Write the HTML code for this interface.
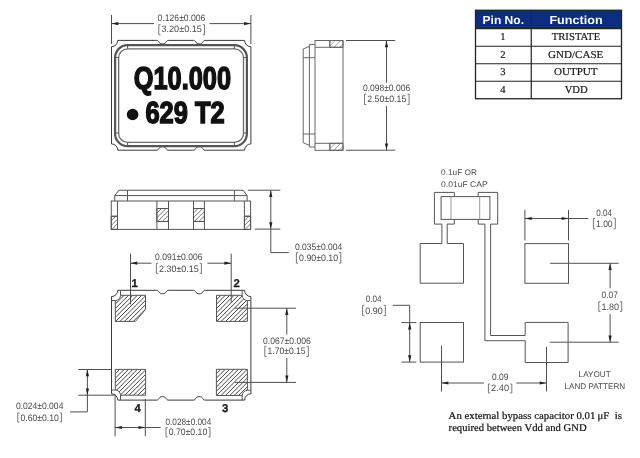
<!DOCTYPE html>
<html><head><meta charset="utf-8"><style>
html,body{margin:0;padding:0;background:#fff;}
svg{display:block;will-change:transform;filter:blur(0.3px);} text{text-rendering:geometricPrecision;}
</style></head><body>
<svg width="640" height="458" viewBox="0 0 640 458">

<rect width="640" height="458" fill="#fff"/>
<path d="M117.8,40.4 L156.8,40.4 C159.20000000000002,40.4 158.3,43.9 162.5,43.9 C166.7,43.9 165.79999999999998,40.4 168.2,40.4 L193.6,40.4 C196.0,40.4 195.05,43.9 199.25,43.9 C203.45,43.9 202.5,40.4 204.9,40.4 L244.6,40.4 A6.3,6.3 0 0 0 250.9,46.699999999999996 L250.9,143.89999999999998 A6.3,6.3 0 0 0 244.6,150.2 L204.9,150.2 C202.5,150.2 203.45,146.7 199.25,146.7 C195.05,146.7 196.0,150.2 193.6,150.2 L168.2,150.2 C165.79999999999998,150.2 166.7,146.7 162.5,146.7 C158.3,146.7 159.20000000000002,150.2 156.8,150.2 L117.8,150.2 A6.3,6.3 0 0 0 111.5,143.89999999999998 L111.5,46.699999999999996 A6.3,6.3 0 0 0 117.8,40.4 Z" stroke="#3a3a3a" stroke-width="1.0" fill="none"/>
<rect x="115.1" y="45.2" width="131.8" height="101" rx="12.5" ry="12.5" fill="none" stroke="#555" stroke-width="2.2"/>
<rect x="118.65" y="48.85" width="124.85" height="93.55" rx="9" ry="9" fill="none" stroke="#6a6a6a" stroke-width="1.3"/>
<line x1="127.6" y1="45.2" x2="127.6" y2="48.85" stroke="#555" stroke-width="1"/>
<line x1="127.6" y1="142.4" x2="127.6" y2="146.2" stroke="#555" stroke-width="1"/>
<line x1="234.3" y1="45.2" x2="234.3" y2="48.85" stroke="#555" stroke-width="1"/>
<line x1="234.3" y1="142.4" x2="234.3" y2="146.2" stroke="#555" stroke-width="1"/>
<line x1="115.1" y1="57.6" x2="118.65" y2="57.6" stroke="#555" stroke-width="1"/>
<line x1="243.5" y1="57.6" x2="246.9" y2="57.6" stroke="#555" stroke-width="1"/>
<line x1="115.1" y1="133.0" x2="118.65" y2="133.0" stroke="#555" stroke-width="1"/>
<line x1="243.5" y1="133.0" x2="246.9" y2="133.0" stroke="#555" stroke-width="1"/>
<text x="133.8" y="88.8" font-family="Liberation Sans" font-weight="bold" font-size="31.5" fill="#111" stroke="#111" stroke-width="1.5" textLength="97.2" lengthAdjust="spacingAndGlyphs">Q10.000</text>
<circle cx="132.6" cy="114.5" r="5.8" fill="#111"/>
<text x="145.4" y="122.8" font-family="Liberation Sans" font-weight="bold" font-size="30.5" fill="#111" stroke="#111" stroke-width="1.5" textLength="79.2" lengthAdjust="spacingAndGlyphs">629 T2</text>
<line x1="111.5" y1="15" x2="111.5" y2="44" stroke="#505050" stroke-width="1.0"/>
<line x1="250.9" y1="15" x2="250.9" y2="44" stroke="#505050" stroke-width="1.0"/>
<line x1="111.5" y1="23.6" x2="154" y2="23.6" stroke="#505050" stroke-width="1.0"/>
<line x1="209.6" y1="23.6" x2="250.9" y2="23.6" stroke="#505050" stroke-width="1.0"/>
<polygon points="111.5,23.6 118.3,22.0 118.3,25.200000000000003" fill="#222"/>
<polygon points="250.9,23.6 244.1,22.0 244.1,25.200000000000003" fill="#222"/>
<text x="157.6" y="20.5" font-family="Liberation Sans" font-size="9.3" font-weight="normal" fill="#4a4a4a" text-anchor="start" textLength="47.8" lengthAdjust="spacingAndGlyphs">0.126±0.006</text>
<path d="M160.5,24.7 H158.8 V34.8 H160.5" stroke="#6a6a6a" stroke-width="0.9" fill="none"/>
<path d="M202.8,24.7 H204.5 V34.8 H202.8" stroke="#6a6a6a" stroke-width="0.9" fill="none"/>
<text x="161.5" y="32.4" font-family="Liberation Sans" font-size="9.3" font-weight="normal" fill="#4a4a4a" text-anchor="start" textLength="40.3" lengthAdjust="spacingAndGlyphs">3.20±0.15</text>
<rect x="315" y="40.5" width="28" height="109.8" stroke="#666" stroke-width="1.0" fill="none"/>
<line x1="315" y1="47.3" x2="343" y2="47.3" stroke="#666" stroke-width="1.0"/>
<line x1="315" y1="143.3" x2="343" y2="143.3" stroke="#666" stroke-width="1.0"/>
<line x1="329.8" y1="40.5" x2="329.8" y2="47.3" stroke="#666" stroke-width="1.0"/>
<line x1="329.8" y1="143.3" x2="329.8" y2="150.3" stroke="#666" stroke-width="1.0"/>
<path d="M315,44.4 H309.4 V147 H315" stroke="#666" stroke-width="1.0" fill="none"/>
<path d="M309.4,46.3 L303.2,49 V142.7 L309.4,145.4" stroke="#666" stroke-width="1.0" fill="none"/>
<line x1="303.2" y1="57.7" x2="315" y2="57.7" stroke="#666" stroke-width="1.0"/>
<line x1="303.2" y1="134" x2="315" y2="134" stroke="#666" stroke-width="1.0"/>
<line x1="346" y1="40.5" x2="395.3" y2="40.5" stroke="#505050" stroke-width="1.0"/>
<line x1="346" y1="150.2" x2="395.3" y2="150.2" stroke="#505050" stroke-width="1.0"/>
<line x1="386.5" y1="40.5" x2="386.5" y2="82.7" stroke="#505050" stroke-width="1.0"/>
<line x1="386.5" y1="106.2" x2="386.5" y2="150.2" stroke="#505050" stroke-width="1.0"/>
<polygon points="386.5,40.5 384.9,47.3 388.1,47.3" fill="#222"/>
<polygon points="386.5,150.2 384.9,143.39999999999998 388.1,143.39999999999998" fill="#222"/>
<text x="362.9" y="91.2" font-family="Liberation Sans" font-size="9.3" font-weight="normal" fill="#4a4a4a" text-anchor="start" textLength="47.3" lengthAdjust="spacingAndGlyphs">0.098±0.006</text>
<path d="M366.2,94.1 H364.5 V104.5 H366.2" stroke="#6a6a6a" stroke-width="0.9" fill="none"/>
<path d="M407.40000000000003,94.1 H409.1 V104.5 H407.40000000000003" stroke="#6a6a6a" stroke-width="0.9" fill="none"/>
<text x="367.2" y="102.4" font-family="Liberation Sans" font-size="9.3" font-weight="normal" fill="#4a4a4a" text-anchor="start" textLength="39.2" lengthAdjust="spacingAndGlyphs">2.50±0.15</text>
<path d="M114.75,201 V195.6 L118.75,190.25 H243.1 L247.1,195.6 V201" stroke="#555555" stroke-width="1.0" fill="none"/>
<line x1="114.75" y1="195.6" x2="247.1" y2="195.6" stroke="#555555" stroke-width="1.0"/>
<line x1="127.5" y1="190.25" x2="127.5" y2="201" stroke="#555555" stroke-width="1.0"/>
<line x1="234.4" y1="190.25" x2="234.4" y2="201" stroke="#555555" stroke-width="1.0"/>
<rect x="111.25" y="201" width="139.35" height="28.4" stroke="#555555" stroke-width="1.0" fill="none"/>
<line x1="117.5" y1="201" x2="117.5" y2="229.4" stroke="#555555" stroke-width="1.0"/>
<line x1="156.9" y1="201" x2="156.9" y2="229.4" stroke="#555555" stroke-width="1.0"/>
<line x1="168.5" y1="201" x2="168.5" y2="229.4" stroke="#555555" stroke-width="1.0"/>
<line x1="193.5" y1="201" x2="193.5" y2="229.4" stroke="#555555" stroke-width="1.0"/>
<line x1="204.4" y1="201" x2="204.4" y2="229.4" stroke="#555555" stroke-width="1.0"/>
<line x1="244.4" y1="201" x2="244.4" y2="229.4" stroke="#555555" stroke-width="1.0"/>
<line x1="111.25" y1="216.25" x2="117.5" y2="216.25" stroke="#555555" stroke-width="1.0"/>
<line x1="244.4" y1="216.25" x2="250.6" y2="216.25" stroke="#555555" stroke-width="1.0"/>
<line x1="156.9" y1="208.5" x2="168.5" y2="208.5" stroke="#555555" stroke-width="1.0"/>
<line x1="156.9" y1="221.5" x2="168.5" y2="221.5" stroke="#555555" stroke-width="1.0"/>
<line x1="193.5" y1="208.5" x2="204.4" y2="208.5" stroke="#555555" stroke-width="1.0"/>
<line x1="193.5" y1="221.5" x2="204.4" y2="221.5" stroke="#555555" stroke-width="1.0"/>
<line x1="247.9" y1="190.2" x2="280.3" y2="190.2" stroke="#505050" stroke-width="1.0"/>
<line x1="254.7" y1="229.1" x2="280.3" y2="229.1" stroke="#505050" stroke-width="1.0"/>
<path d="M270.8,190.2 V252.6 H288.8" stroke="#505050" stroke-width="1.0" fill="none"/>
<polygon points="270.8,190.2 269.2,197.0 272.40000000000003,197.0" fill="#222"/>
<polygon points="270.8,229.1 269.2,222.29999999999998 272.40000000000003,222.29999999999998" fill="#222"/>
<text x="294.9" y="249.8" font-family="Liberation Sans" font-size="9.3" font-weight="normal" fill="#4a4a4a" text-anchor="start" textLength="47.4" lengthAdjust="spacingAndGlyphs">0.035±0.004</text>
<path d="M298.09999999999997,252.6 H296.4 V263.1 H298.09999999999997" stroke="#6a6a6a" stroke-width="0.9" fill="none"/>
<path d="M339.1,252.6 H340.8 V263.1 H339.1" stroke="#6a6a6a" stroke-width="0.9" fill="none"/>
<text x="299.09999999999997" y="261.4" font-family="Liberation Sans" font-size="9.3" font-weight="normal" fill="#4a4a4a" text-anchor="start" textLength="39.0" lengthAdjust="spacingAndGlyphs">0.90±0.10</text>
<path d="M117.8,290.3 L156.8,290.3 C159.20000000000002,290.3 158.3,293.8 162.5,293.8 C166.7,293.8 165.79999999999998,290.3 168.2,290.3 L193.6,290.3 C196.0,290.3 195.05,293.8 199.25,293.8 C203.45,293.8 202.5,290.3 204.9,290.3 L244.6,290.3 A6.3,6.3 0 0 0 250.9,296.6 L250.9,393.8 A6.3,6.3 0 0 0 244.6,400.1 L204.9,400.1 C202.5,400.1 203.45,396.6 199.25,396.6 C195.05,396.6 196.0,400.1 193.6,400.1 L168.2,400.1 C165.79999999999998,400.1 166.7,396.6 162.5,396.6 C158.3,396.6 159.20000000000002,400.1 156.8,400.1 L117.8,400.1 A6.3,6.3 0 0 0 111.5,393.8 L111.5,296.6 A6.3,6.3 0 0 0 117.8,290.3 Z" stroke="#3a3a3a" stroke-width="1.0" fill="none"/>
<line x1="111.5" y1="300.5" x2="115.3" y2="300.5" stroke="#555555" stroke-width="1.0"/>
<line x1="120.5" y1="290.4" x2="120.5" y2="295.3" stroke="#555555" stroke-width="1.0"/>
<line x1="247.4" y1="300.5" x2="250.5" y2="300.5" stroke="#555555" stroke-width="1.0"/>
<line x1="242.2" y1="290.4" x2="242.2" y2="295.3" stroke="#555555" stroke-width="1.0"/>
<line x1="111.5" y1="390" x2="115.3" y2="390" stroke="#555555" stroke-width="1.0"/>
<line x1="120.5" y1="395.2" x2="120.5" y2="400" stroke="#555555" stroke-width="1.0"/>
<line x1="247.4" y1="390.3" x2="250.5" y2="390.3" stroke="#555555" stroke-width="1.0"/>
<line x1="242.2" y1="395.5" x2="242.2" y2="400" stroke="#555555" stroke-width="1.0"/>
<clipPath id="c1"><path d="M115.3,300.5 A5.2,5.2 0 0 0 120.5,295.3 H145.5 V309.4 L135.4,321.4 H115.3 Z"/></clipPath>
<path d="M88.20,322.40 L116.30,294.30 M92.60,322.40 L120.70,294.30 M97.00,322.40 L125.10,294.30 M101.40,322.40 L129.50,294.30 M105.80,322.40 L133.90,294.30 M110.20,322.40 L138.30,294.30 M114.60,322.40 L142.70,294.30 M119.00,322.40 L147.10,294.30 M123.40,322.40 L151.50,294.30 M127.80,322.40 L155.90,294.30 M132.20,322.40 L160.30,294.30 M136.60,322.40 L164.70,294.30 M141.00,322.40 L169.10,294.30" stroke="#303030" stroke-width="0.9" clip-path="url(#c1)" fill="none"/>
<path d="M115.3,300.5 A5.2,5.2 0 0 0 120.5,295.3 H145.5 V309.4 L135.4,321.4 H115.3 Z" fill="none" stroke="#555555" stroke-width="1"/>
<clipPath id="c2"><path d="M216.5,295.3 H242.2 A5.2,5.2 0 0 0 247.4,300.5 V321.4 H216.5 Z"/></clipPath>
<path d="M189.40,322.40 L217.50,294.30 M193.80,322.40 L221.90,294.30 M198.20,322.40 L226.30,294.30 M202.60,322.40 L230.70,294.30 M207.00,322.40 L235.10,294.30 M211.40,322.40 L239.50,294.30 M215.80,322.40 L243.90,294.30 M220.20,322.40 L248.30,294.30 M224.60,322.40 L252.70,294.30 M229.00,322.40 L257.10,294.30 M233.40,322.40 L261.50,294.30 M237.80,322.40 L265.90,294.30 M242.20,322.40 L270.30,294.30" stroke="#303030" stroke-width="0.9" clip-path="url(#c2)" fill="none"/>
<path d="M216.5,295.3 H242.2 A5.2,5.2 0 0 0 247.4,300.5 V321.4 H216.5 Z" fill="none" stroke="#555555" stroke-width="1"/>
<clipPath id="c3"><path d="M216.4,369.3 H247.4 V390.3 A5.2,5.2 0 0 0 242.2,395.5 H216.4 Z"/></clipPath>
<path d="M189.20,396.50 L217.40,368.30 M193.60,396.50 L221.80,368.30 M198.00,396.50 L226.20,368.30 M202.40,396.50 L230.60,368.30 M206.80,396.50 L235.00,368.30 M211.20,396.50 L239.40,368.30 M215.60,396.50 L243.80,368.30 M220.00,396.50 L248.20,368.30 M224.40,396.50 L252.60,368.30 M228.80,396.50 L257.00,368.30 M233.20,396.50 L261.40,368.30 M237.60,396.50 L265.80,368.30 M242.00,396.50 L270.20,368.30 M246.40,396.50 L274.60,368.30" stroke="#303030" stroke-width="0.9" clip-path="url(#c3)" fill="none"/>
<path d="M216.4,369.3 H247.4 V390.3 A5.2,5.2 0 0 0 242.2,395.5 H216.4 Z" fill="none" stroke="#555555" stroke-width="1"/>
<clipPath id="c4"><path d="M115.3,369.4 H145.6 V395.2 H120.5 A5.2,5.2 0 0 0 115.3,390 Z"/></clipPath>
<path d="M88.50,396.20 L116.30,368.40 M92.90,396.20 L120.70,368.40 M97.30,396.20 L125.10,368.40 M101.70,396.20 L129.50,368.40 M106.10,396.20 L133.90,368.40 M110.50,396.20 L138.30,368.40 M114.90,396.20 L142.70,368.40 M119.30,396.20 L147.10,368.40 M123.70,396.20 L151.50,368.40 M128.10,396.20 L155.90,368.40 M132.50,396.20 L160.30,368.40 M136.90,396.20 L164.70,368.40 M141.30,396.20 L169.10,368.40" stroke="#303030" stroke-width="0.9" clip-path="url(#c4)" fill="none"/>
<path d="M115.3,369.4 H145.6 V395.2 H120.5 A5.2,5.2 0 0 0 115.3,390 Z" fill="none" stroke="#555555" stroke-width="1"/>
<clipPath id="c5"><path d="M111.25,216.25 H117.5 V229.4 H111.25 Z"/></clipPath>
<path d="M97.10,230.40 L112.25,215.25 M101.70,230.40 L116.85,215.25 M106.30,230.40 L121.45,215.25 M110.90,230.40 L126.05,215.25 M115.50,230.40 L130.65,215.25" stroke="#555" stroke-width="0.8" clip-path="url(#c5)" fill="none"/>
<path d="M111.25,216.25 H117.5 V229.4 H111.25 Z" fill="none" stroke="#555555" stroke-width="1"/>
<clipPath id="c6"><path d="M244.4,216.25 H250.6 V229.4 H244.4 Z"/></clipPath>
<path d="M230.25,230.40 L245.40,215.25 M234.85,230.40 L250.00,215.25 M239.45,230.40 L254.60,215.25 M244.05,230.40 L259.20,215.25 M248.65,230.40 L263.80,215.25" stroke="#555" stroke-width="0.8" clip-path="url(#c6)" fill="none"/>
<path d="M244.4,216.25 H250.6 V229.4 H244.4 Z" fill="none" stroke="#555555" stroke-width="1"/>
<clipPath id="c7"><path d="M156.9,208.5 H168.5 V221.5 H156.9 Z"/></clipPath>
<path d="M142.90,222.50 L157.90,207.50 M147.50,222.50 L162.50,207.50 M152.10,222.50 L167.10,207.50 M156.70,222.50 L171.70,207.50 M161.30,222.50 L176.30,207.50 M165.90,222.50 L180.90,207.50" stroke="#555" stroke-width="0.8" clip-path="url(#c7)" fill="none"/>
<path d="M156.9,208.5 H168.5 V221.5 H156.9 Z" fill="none" stroke="#555555" stroke-width="1"/>
<clipPath id="c8"><path d="M193.5,208.5 H204.4 V221.5 H193.5 Z"/></clipPath>
<path d="M179.50,222.50 L194.50,207.50 M184.10,222.50 L199.10,207.50 M188.70,222.50 L203.70,207.50 M193.30,222.50 L208.30,207.50 M197.90,222.50 L212.90,207.50 M202.50,222.50 L217.50,207.50" stroke="#555" stroke-width="0.8" clip-path="url(#c8)" fill="none"/>
<path d="M193.5,208.5 H204.4 V221.5 H193.5 Z" fill="none" stroke="#555555" stroke-width="1"/>
<clipPath id="c9"><path d="M329.8,40.5 H343 V47.3 H329.8 Z"/></clipPath>
<path d="M322.00,48.30 L330.80,39.50 M327.50,48.30 L336.30,39.50 M333.00,48.30 L341.80,39.50 M338.50,48.30 L347.30,39.50" stroke="#888" stroke-width="0.8" clip-path="url(#c9)" fill="none"/>
<path d="M329.8,40.5 H343 V47.3 H329.8 Z" fill="none" stroke="#666" stroke-width="1"/>
<clipPath id="c10"><path d="M329.8,143.3 H343 V150.3 H329.8 Z"/></clipPath>
<path d="M321.80,151.30 L330.80,142.30 M327.30,151.30 L336.30,142.30 M332.80,151.30 L341.80,142.30 M338.30,151.30 L347.30,142.30" stroke="#888" stroke-width="0.8" clip-path="url(#c10)" fill="none"/>
<path d="M329.8,143.3 H343 V150.3 H329.8 Z" fill="none" stroke="#666" stroke-width="1"/>
<text x="131.6" y="287.0" font-family="Liberation Sans" font-size="11.3" font-weight="bold" fill="#1a1a1a" text-anchor="start" stroke="#1a1a1a" stroke-width="0.3">1</text>
<text x="233.6" y="287.0" font-family="Liberation Sans" font-size="11.3" font-weight="bold" fill="#1a1a1a" text-anchor="start" stroke="#1a1a1a" stroke-width="0.3">2</text>
<text x="134.4" y="411.7" font-family="Liberation Sans" font-size="11.3" font-weight="bold" fill="#1a1a1a" text-anchor="start" stroke="#1a1a1a" stroke-width="0.3">4</text>
<text x="221.9" y="411.6" font-family="Liberation Sans" font-size="11.3" font-weight="bold" fill="#1a1a1a" text-anchor="start" stroke="#1a1a1a" stroke-width="0.3">3</text>
<line x1="130.5" y1="253.7" x2="130.5" y2="304.5" stroke="#505050" stroke-width="1.0"/>
<line x1="231.2" y1="253.7" x2="231.2" y2="302.4" stroke="#505050" stroke-width="1.0"/>
<line x1="130.5" y1="263.2" x2="151.6" y2="263.2" stroke="#505050" stroke-width="1.0"/>
<line x1="207.4" y1="263.2" x2="231.2" y2="263.2" stroke="#505050" stroke-width="1.0"/>
<polygon points="130.5,263.2 137.3,261.59999999999997 137.3,264.8" fill="#222"/>
<polygon points="231.2,263.2 224.39999999999998,261.59999999999997 224.39999999999998,264.8" fill="#222"/>
<text x="155.1" y="259.5" font-family="Liberation Sans" font-size="9.3" font-weight="normal" fill="#4a4a4a" text-anchor="start" textLength="47.3" lengthAdjust="spacingAndGlyphs">0.091±0.006</text>
<path d="M158.1,263.3 H156.4 V273.4 H158.1" stroke="#6a6a6a" stroke-width="0.9" fill="none"/>
<path d="M199.70000000000002,263.3 H201.4 V273.4 H199.70000000000002" stroke="#6a6a6a" stroke-width="0.9" fill="none"/>
<text x="159.1" y="271.5" font-family="Liberation Sans" font-size="9.3" font-weight="normal" fill="#4a4a4a" text-anchor="start" textLength="39.6" lengthAdjust="spacingAndGlyphs">2.30±0.15</text>
<line x1="234.9" y1="308.2" x2="296" y2="308.2" stroke="#505050" stroke-width="1.0"/>
<line x1="234.9" y1="382.4" x2="296" y2="382.4" stroke="#505050" stroke-width="1.0"/>
<line x1="286.8" y1="308.2" x2="286.8" y2="334.6" stroke="#505050" stroke-width="1.0"/>
<line x1="286.8" y1="358" x2="286.8" y2="382.4" stroke="#505050" stroke-width="1.0"/>
<polygon points="286.8,308.2 285.2,315.0 288.40000000000003,315.0" fill="#222"/>
<polygon points="286.8,382.4 285.2,375.59999999999997 288.40000000000003,375.59999999999997" fill="#222"/>
<text x="263.1" y="343.6" font-family="Liberation Sans" font-size="9.3" font-weight="normal" fill="#4a4a4a" text-anchor="start" textLength="47.7" lengthAdjust="spacingAndGlyphs">0.067±0.006</text>
<path d="M266.5,346.3 H264.8 V356.5 H266.5" stroke="#6a6a6a" stroke-width="0.9" fill="none"/>
<path d="M306.6,346.3 H308.3 V356.5 H306.6" stroke="#6a6a6a" stroke-width="0.9" fill="none"/>
<text x="267.5" y="354.4" font-family="Liberation Sans" font-size="9.3" font-weight="normal" fill="#4a4a4a" text-anchor="start" textLength="38.1" lengthAdjust="spacingAndGlyphs">1.70±0.15</text>
<line x1="78.3" y1="369.5" x2="111.4" y2="369.5" stroke="#505050" stroke-width="1.0"/>
<line x1="78.3" y1="395.2" x2="115.9" y2="395.2" stroke="#505050" stroke-width="1.0"/>
<path d="M87.4,369.5 V411.9 H70.1" stroke="#505050" stroke-width="1.0" fill="none"/>
<polygon points="87.4,369.5 85.80000000000001,376.3 89.0,376.3" fill="#222"/>
<polygon points="87.4,395.2 85.80000000000001,388.4 89.0,388.4" fill="#222"/>
<text x="15.9" y="408.9" font-family="Liberation Sans" font-size="9.3" font-weight="normal" fill="#4a4a4a" text-anchor="start" textLength="47.5" lengthAdjust="spacingAndGlyphs">0.024±0.004</text>
<path d="M19.5,412.9 H17.8 V422 H19.5" stroke="#6a6a6a" stroke-width="0.9" fill="none"/>
<path d="M59.8,412.9 H61.5 V422 H59.8" stroke="#6a6a6a" stroke-width="0.9" fill="none"/>
<text x="20.5" y="420.5" font-family="Liberation Sans" font-size="9.3" font-weight="normal" fill="#4a4a4a" text-anchor="start" textLength="38.3" lengthAdjust="spacingAndGlyphs">0.60±0.10</text>
<line x1="115.1" y1="395.2" x2="115.1" y2="436.3" stroke="#505050" stroke-width="1.0"/>
<line x1="145.3" y1="399" x2="145.3" y2="436.3" stroke="#505050" stroke-width="1.0"/>
<line x1="115.1" y1="427.5" x2="160.6" y2="427.5" stroke="#505050" stroke-width="1.0"/>
<polygon points="115.1,427.5 121.89999999999999,425.9 121.89999999999999,429.1" fill="#222"/>
<polygon points="145.3,427.5 138.5,425.9 138.5,429.1" fill="#222"/>
<text x="165.5" y="424.5" font-family="Liberation Sans" font-size="9.3" font-weight="normal" fill="#4a4a4a" text-anchor="start" textLength="45.75" lengthAdjust="spacingAndGlyphs">0.028±0.004</text>
<path d="M167.7,427.5 H166.0 V437 H167.7" stroke="#6a6a6a" stroke-width="0.9" fill="none"/>
<path d="M208.3,427.5 H210.0 V437 H208.3" stroke="#6a6a6a" stroke-width="0.9" fill="none"/>
<text x="168.7" y="435" font-family="Liberation Sans" font-size="9.3" font-weight="normal" fill="#4a4a4a" text-anchor="start" textLength="38.6" lengthAdjust="spacingAndGlyphs">0.70±0.10</text>
<text x="441.1" y="175.3" font-family="Liberation Sans" font-size="8.2" font-weight="normal" fill="#4a4a4a" text-anchor="start" textLength="35.8" lengthAdjust="spacingAndGlyphs">0.1uF OR</text>
<text x="441.1" y="186.8" font-family="Liberation Sans" font-size="8.2" font-weight="normal" fill="#4a4a4a" text-anchor="start" textLength="46.5" lengthAdjust="spacingAndGlyphs">0.01uF CAP</text>
<path d="M454.3,196.6 V192.4 H434.4 V224.1 H441.9 V243.5 H420.2 V283.2 H463.5 V243.5 H447.2 V224.1 H454.3 V219.4" stroke="#555" stroke-width="1.0" fill="none"/>
<path d="M478.2,196.6 V192.4 H497.7 V224.1 H490.6 V335.5 H525.2 V322.4 H568.1 V362.5 H525.2 V340.7 H484.9 V224.1 H478.2 V219.4" stroke="#555" stroke-width="1.0" fill="none"/>
<rect x="441.1" y="196.6" width="48.8" height="22.8" stroke="#555" stroke-width="1.0" fill="none"/>
<line x1="451" y1="196.6" x2="451" y2="219.4" stroke="#999" stroke-width="1.0"/>
<line x1="479.7" y1="196.6" x2="479.7" y2="219.4" stroke="#999" stroke-width="1.0"/>
<rect x="420.2" y="322.5" width="43.3" height="39.6" stroke="#555" stroke-width="1.0" fill="none"/>
<rect x="524.9" y="243.6" width="43.6" height="39.7" stroke="#555" stroke-width="1.0" fill="none"/>
<line x1="524.9" y1="209.9" x2="524.9" y2="240.4" stroke="#505050" stroke-width="1.0"/>
<line x1="568.5" y1="209.9" x2="568.5" y2="240.4" stroke="#505050" stroke-width="1.0"/>
<line x1="524.9" y1="218.5" x2="588.3" y2="218.5" stroke="#505050" stroke-width="1.0"/>
<polygon points="524.9,218.5 531.6999999999999,216.9 531.6999999999999,220.1" fill="#222"/>
<polygon points="568.5,218.5 561.7,216.9 561.7,220.1" fill="#222"/>
<text x="596.2" y="215.6" font-family="Liberation Sans" font-size="9.3" font-weight="normal" fill="#4a4a4a" text-anchor="start" textLength="15.7" lengthAdjust="spacingAndGlyphs">0.04</text>
<path d="M595.1,218.2 H593.4 V228.8 H595.1" stroke="#6a6a6a" stroke-width="0.9" fill="none"/>
<path d="M613.5999999999999,218.2 H615.3 V228.8 H613.5999999999999" stroke="#6a6a6a" stroke-width="0.9" fill="none"/>
<text x="596.1" y="226.9" font-family="Liberation Sans" font-size="9.3" font-weight="normal" fill="#4a4a4a" text-anchor="start" textLength="16.5" lengthAdjust="spacingAndGlyphs">1.00</text>
<line x1="550.1" y1="263.3" x2="618.6" y2="263.3" stroke="#505050" stroke-width="1.0"/>
<line x1="549.8" y1="342.2" x2="618.6" y2="342.2" stroke="#505050" stroke-width="1.0"/>
<line x1="610.1" y1="263.3" x2="610.1" y2="288.2" stroke="#505050" stroke-width="1.0"/>
<line x1="610.1" y1="314.1" x2="610.1" y2="342.2" stroke="#505050" stroke-width="1.0"/>
<polygon points="610.1,263.3 608.5,270.1 611.7,270.1" fill="#222"/>
<polygon points="610.1,342.2 608.5,335.4 611.7,335.4" fill="#222"/>
<text x="601.4" y="298" font-family="Liberation Sans" font-size="9.3" font-weight="normal" fill="#4a4a4a" text-anchor="start" textLength="16.6" lengthAdjust="spacingAndGlyphs">0.07</text>
<path d="M600.5,301.7 H598.8 V311.4 H600.5" stroke="#6a6a6a" stroke-width="0.9" fill="none"/>
<path d="M620.0,301.7 H621.7 V311.4 H620.0" stroke="#6a6a6a" stroke-width="0.9" fill="none"/>
<text x="601.5" y="309.8" font-family="Liberation Sans" font-size="9.3" font-weight="normal" fill="#4a4a4a" text-anchor="start" textLength="17.5" lengthAdjust="spacingAndGlyphs">1.80</text>
<line x1="401.5" y1="322.6" x2="416.3" y2="322.6" stroke="#505050" stroke-width="1.0"/>
<line x1="401.5" y1="362.1" x2="416.3" y2="362.1" stroke="#505050" stroke-width="1.0"/>
<path d="M392.7,305.3 H409.7 V362.1" stroke="#505050" stroke-width="1.0" fill="none"/>
<polygon points="409.7,322.6 408.09999999999997,329.40000000000003 411.3,329.40000000000003" fill="#222"/>
<polygon points="409.7,362.1 408.09999999999997,355.3 411.3,355.3" fill="#222"/>
<text x="365.7" y="302.3" font-family="Liberation Sans" font-size="9.3" font-weight="normal" fill="#4a4a4a" text-anchor="start" textLength="15.8" lengthAdjust="spacingAndGlyphs">0.04</text>
<path d="M364.3,305.3 H362.6 V315.7 H364.3" stroke="#6a6a6a" stroke-width="0.9" fill="none"/>
<path d="M383.7,305.3 H385.4 V315.7 H383.7" stroke="#6a6a6a" stroke-width="0.9" fill="none"/>
<text x="365.3" y="314.1" font-family="Liberation Sans" font-size="9.3" font-weight="normal" fill="#4a4a4a" text-anchor="start" textLength="17.4" lengthAdjust="spacingAndGlyphs">0.90</text>
<line x1="441.5" y1="345.8" x2="441.5" y2="391.5" stroke="#505050" stroke-width="1.0"/>
<line x1="546.5" y1="346.8" x2="546.5" y2="391.5" stroke="#505050" stroke-width="1.0"/>
<line x1="441.5" y1="383" x2="483.9" y2="383" stroke="#505050" stroke-width="1.0"/>
<line x1="516.4" y1="383" x2="546.5" y2="383" stroke="#505050" stroke-width="1.0"/>
<polygon points="441.5,383 448.3,381.4 448.3,384.6" fill="#222"/>
<polygon points="546.5,383 539.7,381.4 539.7,384.6" fill="#222"/>
<text x="492" y="379.9" font-family="Liberation Sans" font-size="9.3" font-weight="normal" fill="#4a4a4a" text-anchor="start" textLength="16.3" lengthAdjust="spacingAndGlyphs">0.09</text>
<path d="M490.09999999999997,384 H488.4 V392.9 H490.09999999999997" stroke="#6a6a6a" stroke-width="0.9" fill="none"/>
<path d="M510.09999999999997,384 H511.79999999999995 V392.9 H510.09999999999997" stroke="#6a6a6a" stroke-width="0.9" fill="none"/>
<text x="491.09999999999997" y="391" font-family="Liberation Sans" font-size="9.3" font-weight="normal" fill="#4a4a4a" text-anchor="start" textLength="18.0" lengthAdjust="spacingAndGlyphs">2.40</text>
<text x="578.6" y="377.4" font-family="Liberation Sans" font-size="8.2" font-weight="normal" fill="#4a4a4a" text-anchor="start" textLength="32.2" lengthAdjust="spacingAndGlyphs">LAYOUT</text>
<text x="564.5" y="389.4" font-family="Liberation Sans" font-size="8.2" font-weight="normal" fill="#4a4a4a" text-anchor="start" textLength="60.7" lengthAdjust="spacingAndGlyphs">LAND PATTERN</text>
<text x="448.6" y="419" font-family="Liberation Serif" font-size="10.3" font-weight="normal" fill="#111" text-anchor="start" textLength="173.4" lengthAdjust="spacingAndGlyphs" stroke="#111" stroke-width="0.2">An external bypass capacitor 0.01&#8201;μF&#160; is</text>
<text x="448.6" y="430.5" font-family="Liberation Serif" font-size="10.3" font-weight="normal" fill="#111" text-anchor="start" textLength="138" lengthAdjust="spacingAndGlyphs" stroke="#111" stroke-width="0.2">required between Vdd and GND</text>
<rect x="475.5" y="10.25" width="146" height="18.4" fill="#0d2d82"/>
<rect x="475.5" y="10.25" width="146" height="88.5" stroke="#222" stroke-width="1.3" fill="none"/>
<line x1="475.5" y1="28.6" x2="621.5" y2="28.6" stroke="#222" stroke-width="1.2"/>
<line x1="475.5" y1="46.25" x2="621.5" y2="46.25" stroke="#222" stroke-width="1.2"/>
<line x1="475.5" y1="63.75" x2="621.5" y2="63.75" stroke="#222" stroke-width="1.2"/>
<line x1="475.5" y1="81.25" x2="621.5" y2="81.25" stroke="#222" stroke-width="1.2"/>
<line x1="531.25" y1="28.6" x2="531.25" y2="98.75" stroke="#222" stroke-width="1.2"/>
<line x1="531.25" y1="10.25" x2="531.25" y2="28.6" stroke="#142660" stroke-width="1.2"/>
<text x="482.5" y="24" font-family="Liberation Sans" font-size="11.8" font-weight="bold" fill="#fff" text-anchor="start" textLength="41.5" lengthAdjust="spacingAndGlyphs">Pin No.</text>
<text x="549.4" y="24" font-family="Liberation Sans" font-size="11.8" font-weight="bold" fill="#fff" text-anchor="start" textLength="53.2" lengthAdjust="spacingAndGlyphs">Function</text>
<text x="502.8" y="40.2" font-family="Liberation Serif" font-size="10.6" font-weight="normal" fill="#1a1a1a" text-anchor="middle" stroke="#1a1a1a" stroke-width="0.2">1</text>
<text x="551.7" y="40.2" font-family="Liberation Serif" font-size="10.6" font-weight="normal" fill="#1a1a1a" text-anchor="start" textLength="48.5" lengthAdjust="spacingAndGlyphs" stroke="#1a1a1a" stroke-width="0.2">TRISTATE</text>
<text x="502.8" y="57.7" font-family="Liberation Serif" font-size="10.6" font-weight="normal" fill="#1a1a1a" text-anchor="middle" stroke="#1a1a1a" stroke-width="0.2">2</text>
<text x="548" y="57.7" font-family="Liberation Serif" font-size="10.6" font-weight="normal" fill="#1a1a1a" text-anchor="start" textLength="55.3" lengthAdjust="spacingAndGlyphs" stroke="#1a1a1a" stroke-width="0.2">GND/CASE</text>
<text x="502.8" y="75.2" font-family="Liberation Serif" font-size="10.6" font-weight="normal" fill="#1a1a1a" text-anchor="middle" stroke="#1a1a1a" stroke-width="0.2">3</text>
<text x="554" y="75.2" font-family="Liberation Serif" font-size="10.6" font-weight="normal" fill="#1a1a1a" text-anchor="start" textLength="43.5" lengthAdjust="spacingAndGlyphs" stroke="#1a1a1a" stroke-width="0.2">OUTPUT</text>
<text x="502.8" y="92.7" font-family="Liberation Serif" font-size="10.6" font-weight="normal" fill="#1a1a1a" text-anchor="middle" stroke="#1a1a1a" stroke-width="0.2">4</text>
<text x="564.7" y="92.7" font-family="Liberation Serif" font-size="10.6" font-weight="normal" fill="#1a1a1a" text-anchor="start" textLength="23" lengthAdjust="spacingAndGlyphs" stroke="#1a1a1a" stroke-width="0.2">VDD</text>
</svg>
</body></html>
